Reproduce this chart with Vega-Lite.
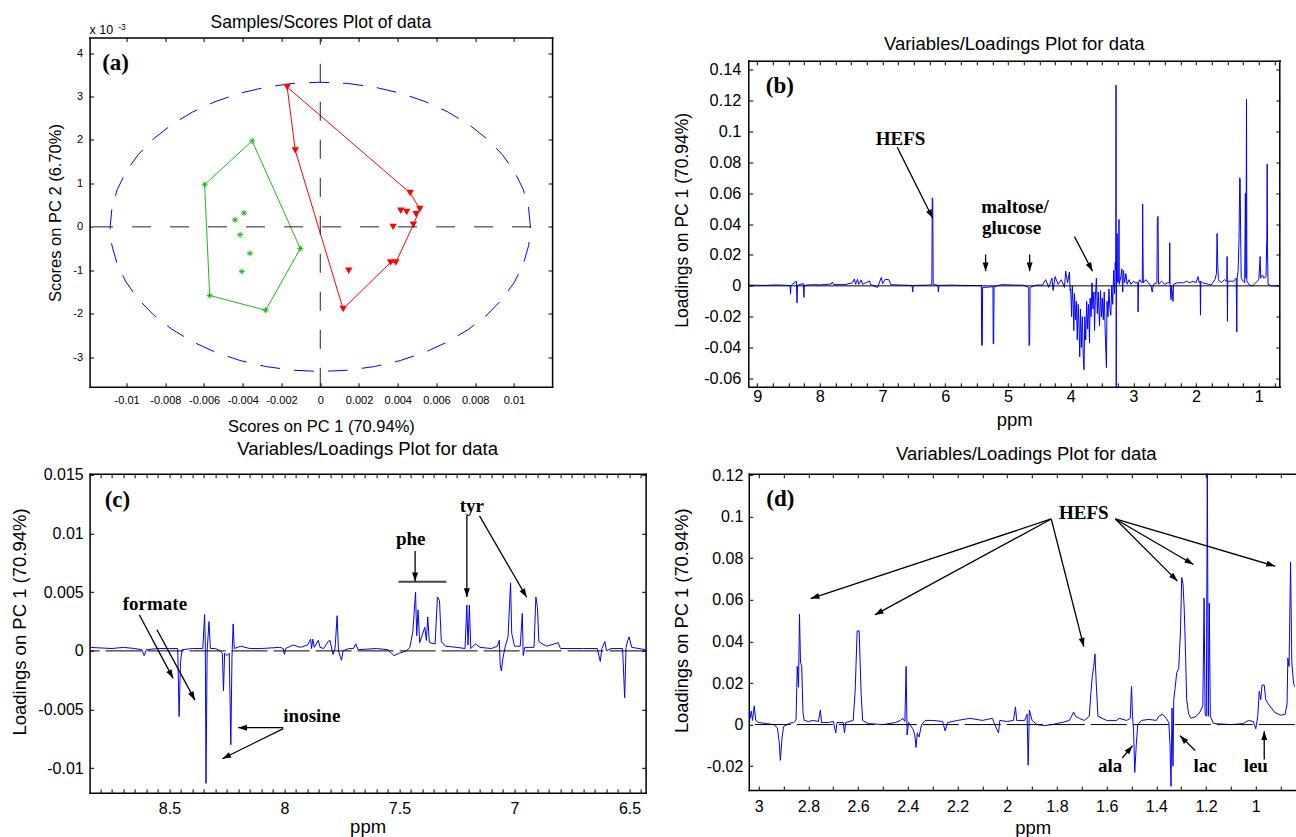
{
  "$schema": "https://vega.github.io/schema/vega-lite/v6.json",
  "background": "white",
  "padding": {"left": 9.6, "top": 13.5, "right": 0, "bottom": 0},
  "bounds": "flush",
  "align": "each",
  "columns": 2,
  "spacing": {"row": 86.3, "column": 103.2},
  "concat": [
    {
      "width": 462.5,
      "height": 349.3,
      "title": {"text": "Samples/Scores Plot of data", "fontSize": 17.5, "baseline": "alphabetic", "offset": -22.4},
      "resolve": {"axis": {"x": "independent", "y": "independent"}},
      "layer": [
        {
          "data": {"name": "ellipse"},
          "mark": {"type": "line", "color": "#0000ff", "strokeWidth": 1, "strokeDash": [20, 14]},
          "encoding": {
            "x": {"field": "x", "type": "quantitative", "scale": {"domain": [-0.01191, 0.01197], "nice": false, "zero": false},
              "axis": {"orient": "bottom", "values": [-0.01, -0.008, -0.006, -0.004, -0.002, 0, 0.002, 0.004, 0.006, 0.008, 0.01], "labelExpr": "toString(datum.value)", "labelFontSize": 11, "labelPadding": 11.2, "title": "Scores on PC 1 (70.94%)", "titleFontSize": 16.5, "titleBaseline": "alphabetic", "titleY": 45}},
            "y": {"field": "y", "type": "quantitative", "scale": {"domain": [-3.683, 4.36], "nice": false, "zero": false},
              "axis": {"orient": "left", "values": [-3, -2, -1, 0, 1, 2, 3, 4], "labelExpr": "toString(datum.value)", "labelFontSize": 11, "labelPadding": 11, "title": "Scores on PC 2 (6.70%)", "titleFontSize": 16.5, "titleBaseline": "middle", "titleX": -34, "titleY": 175}},
            "order": {"field": "i", "type": "quantitative"}
          }
        },
        {
          "data": {"name": "hull"},
          "mark": {"type": "line", "strokeWidth": 1},
          "encoding": {
            "x": {"field": "x", "type": "quantitative", "scale": {"domain": [-0.01191, 0.01197], "nice": false, "zero": false}, "axis": null},
            "y": {"field": "y", "type": "quantitative", "scale": {"domain": [-3.683, 4.36], "nice": false, "zero": false}, "axis": null},
            "color": {"field": "g", "type": "nominal", "scale": {"domain": ["green", "red"], "range": ["#1fb51f", "#ff0000"]}, "legend": null},
            "order": {"field": "i", "type": "quantitative"}
          }
        },
        {
          "data": {"name": "scores"},
          "transform": [{"filter": "datum.g == 'green'"}],
          "mark": {"type": "point", "shape": "M0,-1L0,1M-1,0L1,0M-0.7,-0.7L0.7,0.7M-0.7,0.7L0.7,-0.7", "filled": false, "stroke": "#1fb51f", "strokeWidth": 1, "size": 36, "opacity": 1},
          "encoding": {
            "x": {"field": "x", "type": "quantitative", "scale": {"domain": [-0.01191, 0.01197], "nice": false, "zero": false}, "axis": null},
            "y": {"field": "y", "type": "quantitative", "scale": {"domain": [-3.683, 4.36], "nice": false, "zero": false}, "axis": null}
          }
        },
        {
          "data": {"name": "scores"},
          "transform": [{"filter": "datum.g == 'red'"}],
          "mark": {"type": "point", "shape": "triangle-down", "filled": true, "color": "#ff0000", "size": 55, "opacity": 1},
          "encoding": {
            "x": {"field": "x", "type": "quantitative", "scale": {"domain": [-0.01191, 0.01197], "nice": false, "zero": false}, "axis": null},
            "y": {"field": "y", "type": "quantitative", "scale": {"domain": [-3.683, 4.36], "nice": false, "zero": false}, "axis": null}
          }
        },
        {
          "data": {"values": [{"x": -0.01168, "x2": 0.01094, "y": 0, "y2": 0}, {"x": 0, "x2": 0, "y": -3.683, "y2": 4.36}]},
          "mark": {"type": "rule", "color": "#222222", "strokeWidth": 1, "strokeDash": [19, 19]},
          "encoding": {
            "x": {"field": "x", "type": "quantitative", "scale": {"domain": [-0.01191, 0.01197], "nice": false, "zero": false}, "axis": null},
            "x2": {"field": "x2"},
            "y": {"field": "y", "type": "quantitative", "scale": {"domain": [-3.683, 4.36], "nice": false, "zero": false}, "axis": null},
            "y2": {"field": "y2"}
          }
        },
        {
          "data": {"values": [{"x": -0.01191, "y": 4.441, "t": "x 10"}]},
          "mark": {"type": "text", "font": "Liberation Sans", "fontSize": 12.5, "align": "left", "baseline": "alphabetic", "color": "#000"},
          "encoding": {
            "x": {"field": "x", "type": "quantitative", "scale": {"domain": [-0.01191, 0.01197], "nice": false, "zero": false}, "axis": null},
            "y": {"field": "y", "type": "quantitative", "scale": {"domain": [-3.683, 4.36], "nice": false, "zero": false}, "axis": null},
            "text": {"field": "t"}
          }
        },
        {
          "data": {"values": [{"x": -0.01043, "y": 4.533, "t": "-3"}]},
          "mark": {"type": "text", "font": "Liberation Sans", "fontSize": 8.5, "align": "left", "baseline": "alphabetic", "color": "#000"},
          "encoding": {
            "x": {"field": "x", "type": "quantitative", "scale": {"domain": [-0.01191, 0.01197], "nice": false, "zero": false}, "axis": null},
            "y": {"field": "y", "type": "quantitative", "scale": {"domain": [-3.683, 4.36], "nice": false, "zero": false}, "axis": null},
            "text": {"field": "t"}
          }
        },
        {
          "data": {"values": [{"x": -0.01057, "y": 3.78, "t": "(a)"}]},
          "mark": {"type": "text", "font": "Liberation Serif", "fontWeight": "bold", "fontSize": 23, "align": "center", "baseline": "middle", "color": "#000"},
          "encoding": {
            "x": {"field": "x", "type": "quantitative", "scale": {"domain": [-0.01191, 0.01197], "nice": false, "zero": false},
              "axis": {"orient": "top", "values": [-0.01, -0.008, -0.006, -0.004, -0.002, 0, 0.002, 0.004, 0.006, 0.008, 0.01], "labels": false, "title": null}},
            "y": {"field": "y", "type": "quantitative", "scale": {"domain": [-3.683, 4.36], "nice": false, "zero": false},
              "axis": {"orient": "right", "values": [-3, -2, -1, 0, 1, 2, 3, 4], "labels": false, "title": null}},
            "text": {"field": "t"}
          }
        }
      ]
    },
    {
      "width": 531,
      "height": 349.3,
      "title": {"text": "Variables/Loadings Plot for data", "fontSize": 18.5, "baseline": "alphabetic", "offset": -31.1},
      "resolve": {"axis": {"x": "independent", "y": "independent"}},
      "layer": [
        {
          "data": {"name": "specB"},
          "mark": {"type": "line", "color": "#0000ff", "strokeWidth": 1, "clip": true},
          "encoding": {
            "x": {"field": "p", "type": "quantitative", "scale": {"domain": [0.665, 9.134], "reverse": true, "nice": false, "zero": false},
              "axis": {"orient": "bottom", "values": [0.75,1,1.25,1.5,1.75,2,2.25,2.5,2.75,3,3.25,3.5,3.75,4,4.25,4.5,4.75,5,5.25,5.5,5.75,6,6.25,6.5,6.75,7,7.25,7.5,7.75,8,8.25,8.5,8.75,9], "labelExpr": "datum.value % 1 == 0 ? toString(datum.value) : ''", "labelFontSize": 16.3, "labelPadding": 5.5, "title": "ppm", "titleFontSize": 18.5, "titleBaseline": "alphabetic", "titleY": 38.7}},
            "y": {"field": "v", "type": "quantitative", "scale": {"domain": [-0.0654, 0.1609], "nice": false, "zero": false},
              "axis": {"orient": "left", "domain": false, "values": [-0.06, -0.04, -0.02, 0, 0.02, 0.04, 0.06, 0.08, 0.1, 0.12, 0.14], "labelExpr": "toString(datum.value)", "labelFontSize": 16.3, "labelPadding": 12, "title": "Loadings on PC 1 (70.94%)", "titleFontSize": 17.5, "titleBaseline": "middle", "titleX": -66.5, "titleY": 182.3}}
          }
        },
        {
          "data": {"values": [{"x": 9.134, "y": -0.0654, "y2": 0.1458}, {"x": 0.665, "y": -0.0654, "y2": 0.1458}]},
          "mark": {"type": "rule", "color": "#000", "strokeWidth": 1.5, "strokeCap": "square"},
          "encoding": {
            "x": {"field": "x", "type": "quantitative", "scale": {"domain": [0.665, 9.134], "reverse": true, "nice": false, "zero": false}, "axis": null},
            "y": {"field": "y", "type": "quantitative", "scale": {"domain": [-0.0654, 0.1609], "nice": false, "zero": false}, "axis": null},
            "y2": {"field": "y2"}
          }
        },
        {
          "data": {"values": [{}]},
          "mark": {"type": "rule", "color": "#000", "strokeWidth": 1},
          "encoding": {"y": {"datum": 0, "type": "quantitative", "scale": {"domain": [-0.0654, 0.1609], "nice": false, "zero": false}, "axis": null}}
        },
        {
          "data": {"name": "arrB"},
          "mark": {"type": "rule", "color": "#000", "strokeWidth": 1.3},
          "encoding": {
            "x": {"field": "x", "type": "quantitative", "scale": {"domain": [0.665, 9.134], "reverse": true, "nice": false, "zero": false}, "axis": null},
            "x2": {"field": "x2"},
            "y": {"field": "y", "type": "quantitative", "scale": {"domain": [-0.0654, 0.1609], "nice": false, "zero": false}, "axis": null},
            "y2": {"field": "y2"}
          }
        },
        {
          "data": {"name": "arrB"},
          "mark": {"type": "point", "shape": "M0,0L-0.75,2.2L0.75,2.2Z", "filled": true, "color": "#000", "size": 64, "opacity": 1, "strokeWidth": 0},
          "encoding": {
            "x": {"field": "x2", "type": "quantitative", "scale": {"domain": [0.665, 9.134], "reverse": true, "nice": false, "zero": false}, "axis": null},
            "y": {"field": "y2", "type": "quantitative", "scale": {"domain": [-0.0654, 0.1609], "nice": false, "zero": false}, "axis": null},
            "angle": {"field": "a", "type": "quantitative", "scale": null}
          }
        },
        {
          "data": {"name": "txtB"},
          "mark": {"type": "text", "font": "Liberation Serif", "fontWeight": "bold", "fontSize": 19, "align": "center", "baseline": "middle", "color": "#000"},
          "encoding": {
            "x": {"field": "x", "type": "quantitative", "scale": {"domain": [0.665, 9.134], "reverse": true, "nice": false, "zero": false}, "axis": null},
            "y": {"field": "y", "type": "quantitative", "scale": {"domain": [-0.0654, 0.1609], "nice": false, "zero": false}, "axis": null},
            "text": {"field": "t"}
          }
        },
        {
          "data": {"values": [{"x": 8.639, "y": 0.1297, "t": "(b)"}]},
          "mark": {"type": "text", "font": "Liberation Serif", "fontWeight": "bold", "fontSize": 23, "align": "center", "baseline": "middle", "color": "#000"},
          "encoding": {
            "x": {"field": "x", "type": "quantitative", "scale": {"domain": [0.665, 9.134], "reverse": true, "nice": false, "zero": false},
              "axis": {"orient": "top", "offset": -23.3, "values": [0.75,1,1.25,1.5,1.75,2,2.25,2.5,2.75,3,3.25,3.5,3.75,4,4.25,4.5,4.75,5,5.25,5.5,5.75,6,6.25,6.5,6.75,7,7.25,7.5,7.75,8,8.25,8.5,8.75,9], "labels": false, "title": null}},
            "y": {"field": "y", "type": "quantitative", "scale": {"domain": [-0.0654, 0.1609], "nice": false, "zero": false},
              "axis": {"orient": "right", "domain": false, "values": [-0.06, -0.04, -0.02, 0, 0.02, 0.04, 0.06, 0.08, 0.1, 0.12, 0.14], "labels": false, "title": null}},
            "text": {"field": "t"}
          }
        }
      ]
    },
    {
      "width": 556,
      "height": 319,
      "title": {"text": "Variables/Loadings Plot for data", "fontSize": 18.5, "baseline": "alphabetic", "offset": -6.9},
      "resolve": {"axis": {"x": "independent", "y": "independent"}},
      "layer": [
        {
          "data": {"name": "specC"},
          "mark": {"type": "line", "color": "#0000ff", "strokeWidth": 1, "clip": true},
          "encoding": {
            "x": {"field": "p", "type": "quantitative", "scale": {"domain": [6.43, 8.847], "reverse": true, "nice": false, "zero": false},
              "axis": {"orient": "bottom", "values": [6.45,6.5,6.55,6.6,6.65,6.7,6.75,6.8,6.85,6.9,6.95,7,7.05,7.1,7.15,7.2,7.25,7.3,7.35,7.4,7.45,7.5,7.55,7.6,7.65,7.7,7.75,7.8,7.85,7.9,7.95,8,8.05,8.1,8.15,8.2,8.25,8.3,8.35,8.4,8.45,8.5,8.55,8.6,8.65,8.7,8.75,8.8], "labelExpr": "abs(datum.value*2 - round(datum.value*2)) < 0.001 ? toString(datum.value) : ''", "labelFontSize": 16, "labelPadding": 11.8, "title": "ppm", "titleFontSize": 18.5, "titleBaseline": "alphabetic", "titleY": 39.3}},
            "y": {"field": "v", "type": "quantitative", "scale": {"domain": [-0.0121, 0.0151], "nice": false, "zero": false},
              "axis": {"orient": "left", "values": [-0.01, -0.005, 0, 0.005, 0.01, 0.015], "labelExpr": "toString(datum.value)", "labelFontSize": 16, "labelPadding": 10.4, "title": "Loadings on PC 1 (70.94%)", "titleFontSize": 18.5, "titleBaseline": "middle", "titleX": -70.4, "titleY": 147.7}}
          }
        },
        {
          "data": {"values": [{}]},
          "mark": {"type": "rule", "color": "#000", "strokeWidth": 1, "strokeDash": [36, 6]},
          "encoding": {"y": {"datum": 0, "type": "quantitative", "scale": {"domain": [-0.0121, 0.0151], "nice": false, "zero": false}, "axis": null}}
        },
        {
          "data": {"values": [{"x": 7.504, "x2": 7.296, "y": 0.005886}]},
          "mark": {"type": "rule", "color": "#444444", "strokeWidth": 2},
          "encoding": {
            "x": {"field": "x", "type": "quantitative", "scale": {"domain": [6.43, 8.847], "reverse": true, "nice": false, "zero": false}, "axis": null},
            "x2": {"field": "x2"},
            "y": {"field": "y", "type": "quantitative", "scale": {"domain": [-0.0121, 0.0151], "nice": false, "zero": false}, "axis": null}
          }
        },
        {
          "data": {"name": "arrC"},
          "mark": {"type": "rule", "color": "#000", "strokeWidth": 1.3},
          "encoding": {
            "x": {"field": "x", "type": "quantitative", "scale": {"domain": [6.43, 8.847], "reverse": true, "nice": false, "zero": false}, "axis": null},
            "x2": {"field": "x2"},
            "y": {"field": "y", "type": "quantitative", "scale": {"domain": [-0.0121, 0.0151], "nice": false, "zero": false}, "axis": null},
            "y2": {"field": "y2"}
          }
        },
        {
          "data": {"name": "arrC"},
          "mark": {"type": "point", "shape": "M0,0L-0.75,2.2L0.75,2.2Z", "filled": true, "color": "#000", "size": 64, "opacity": 1, "strokeWidth": 0},
          "encoding": {
            "x": {"field": "x2", "type": "quantitative", "scale": {"domain": [6.43, 8.847], "reverse": true, "nice": false, "zero": false}, "axis": null},
            "y": {"field": "y2", "type": "quantitative", "scale": {"domain": [-0.0121, 0.0151], "nice": false, "zero": false}, "axis": null},
            "angle": {"field": "a", "type": "quantitative", "scale": null}
          }
        },
        {
          "data": {"name": "txtC"},
          "mark": {"type": "text", "font": "Liberation Serif", "fontWeight": "bold", "fontSize": 19, "align": "center", "baseline": "middle", "color": "#000"},
          "encoding": {
            "x": {"field": "x", "type": "quantitative", "scale": {"domain": [6.43, 8.847], "reverse": true, "nice": false, "zero": false}, "axis": null},
            "y": {"field": "y", "type": "quantitative", "scale": {"domain": [-0.0121, 0.0151], "nice": false, "zero": false}, "axis": null},
            "text": {"field": "t"}
          }
        },
        {
          "data": {"values": [{"x": 8.726, "y": 0.012857, "t": "(c)"}]},
          "mark": {"type": "text", "font": "Liberation Serif", "fontWeight": "bold", "fontSize": 23, "align": "center", "baseline": "middle", "color": "#000"},
          "encoding": {
            "x": {"field": "x", "type": "quantitative", "scale": {"domain": [6.43, 8.847], "reverse": true, "nice": false, "zero": false},
              "axis": {"orient": "top", "values": [6.45,6.5,6.55,6.6,6.65,6.7,6.75,6.8,6.85,6.9,6.95,7,7.05,7.1,7.15,7.2,7.25,7.3,7.35,7.4,7.45,7.5,7.55,7.6,7.65,7.7,7.75,7.8,7.85,7.9,7.95,8,8.05,8.1,8.15,8.2,8.25,8.3,8.35,8.4,8.45,8.5,8.55,8.6,8.65,8.7,8.75,8.8], "labels": false, "title": null}},
            "y": {"field": "y", "type": "quantitative", "scale": {"domain": [-0.0121, 0.0151], "nice": false, "zero": false},
              "axis": {"orient": "right", "values": [-0.01, -0.005, 0, 0.005, 0.01, 0.015], "labels": false, "title": null}},
            "text": {"field": "t"}
          }
        }
      ]
    },
    {
      "width": 546,
      "height": 316.3,
      "title": {"text": "Variables/Loadings Plot for data", "fontSize": 18.5, "baseline": "alphabetic", "offset": -11, "dx": 4.5},
      "resolve": {"axis": {"x": "independent", "y": "independent"}},
      "layer": [
        {
          "data": {"name": "specD"},
          "mark": {"type": "line", "color": "#0000ff", "strokeWidth": 1, "clip": true},
          "encoding": {
            "x": {"field": "p", "type": "quantitative", "scale": {"domain": [0.843, 3.04], "reverse": true, "nice": false, "zero": false},
              "axis": {"orient": "bottom", "values": [0.9,1,1.1,1.2,1.3,1.4,1.5,1.6,1.7,1.8,1.9,2,2.1,2.2,2.3,2.4,2.5,2.6,2.7,2.8,2.9,3], "labelExpr": "round(datum.value*10) % 2 == 0 ? toString(datum.value) : ''", "labelFontSize": 16, "labelPadding": 12.2, "title": "ppm", "titleFontSize": 18.5, "titleBaseline": "alphabetic", "titleX": 284, "titleY": 43.5}},
            "y": {"field": "v", "type": "quantitative", "scale": {"domain": [-0.0315, 0.1206], "nice": false, "zero": false},
              "axis": {"orient": "left", "values": [-0.02, 0, 0.02, 0.04, 0.06, 0.08, 0.1, 0.12], "labelExpr": "toString(datum.value)", "labelFontSize": 16, "labelPadding": 10, "title": "Loadings on PC 1 (70.94%)", "titleFontSize": 18.3, "titleBaseline": "middle", "titleX": -66.7, "titleY": 146.5}}
          }
        },
        {
          "data": {"values": [{}]},
          "mark": {"type": "rule", "color": "#000", "strokeWidth": 1, "strokeDash": [36, 6]},
          "encoding": {"y": {"datum": 0, "type": "quantitative", "scale": {"domain": [-0.0315, 0.1206], "nice": false, "zero": false}, "axis": null}}
        },
        {
          "data": {"name": "arrD"},
          "mark": {"type": "rule", "color": "#000", "strokeWidth": 1.3},
          "encoding": {
            "x": {"field": "x", "type": "quantitative", "scale": {"domain": [0.843, 3.04], "reverse": true, "nice": false, "zero": false}, "axis": null},
            "x2": {"field": "x2"},
            "y": {"field": "y", "type": "quantitative", "scale": {"domain": [-0.0315, 0.1206], "nice": false, "zero": false}, "axis": null},
            "y2": {"field": "y2"}
          }
        },
        {
          "data": {"name": "arrD"},
          "mark": {"type": "point", "shape": "M0,0L-0.75,2.2L0.75,2.2Z", "filled": true, "color": "#000", "size": 64, "opacity": 1, "strokeWidth": 0},
          "encoding": {
            "x": {"field": "x2", "type": "quantitative", "scale": {"domain": [0.843, 3.04], "reverse": true, "nice": false, "zero": false}, "axis": null},
            "y": {"field": "y2", "type": "quantitative", "scale": {"domain": [-0.0315, 0.1206], "nice": false, "zero": false}, "axis": null},
            "angle": {"field": "a", "type": "quantitative", "scale": null}
          }
        },
        {
          "data": {"name": "txtD"},
          "mark": {"type": "text", "font": "Liberation Serif", "fontWeight": "bold", "fontSize": 19, "align": "center", "baseline": "middle", "color": "#000"},
          "encoding": {
            "x": {"field": "x", "type": "quantitative", "scale": {"domain": [0.843, 3.04], "reverse": true, "nice": false, "zero": false}, "axis": null},
            "y": {"field": "y", "type": "quantitative", "scale": {"domain": [-0.0315, 0.1206], "nice": false, "zero": false}, "axis": null},
            "text": {"field": "t"}
          }
        },
        {
          "data": {"values": [{"x": 2.913, "y": 0.1085, "t": "(d)"}]},
          "mark": {"type": "text", "font": "Liberation Serif", "fontWeight": "bold", "fontSize": 23, "align": "center", "baseline": "middle", "color": "#000"},
          "encoding": {
            "x": {"field": "x", "type": "quantitative", "scale": {"domain": [0.843, 3.04], "reverse": true, "nice": false, "zero": false},
              "axis": {"orient": "top", "values": [0.9,1,1.1,1.2,1.3,1.4,1.5,1.6,1.7,1.8,1.9,2,2.1,2.2,2.3,2.4,2.5,2.6,2.7,2.8,2.9,3], "labels": false, "title": null}},
            "y": {"field": "y", "type": "quantitative", "scale": {"domain": [-0.0315, 0.1206], "nice": false, "zero": false}, "axis": null},
            "text": {"field": "t"}
          }
        }
      ]
    }
  ],
  "datasets": {
    "ellipse": [
      {"i":0,"x":0.01085,"y":0},{"i":1,"x":0.010757,"y":0.4346},{"i":2,"x":0.01048,"y":0.8618},{"i":3,"x":0.010024,"y":1.2744},{"i":4,"x":0.009396,"y":1.665},{"i":5,"x":0.008608,"y":2.0273},{"i":6,"x":0.007672,"y":2.3546},{"i":7,"x":0.006605,"y":2.642},{"i":8,"x":0.005425,"y":2.8838},{"i":9,"x":0.004152,"y":3.0766},{"i":10,"x":0.002808,"y":3.2164},{"i":11,"x":0.001416,"y":3.3014},{"i":12,"x":0,"y":3.33},
      {"i":13,"x":-0.001416,"y":3.3014},{"i":14,"x":-0.002808,"y":3.2164},{"i":15,"x":-0.004152,"y":3.0766},{"i":16,"x":-0.005425,"y":2.8838},{"i":17,"x":-0.006605,"y":2.642},{"i":18,"x":-0.007672,"y":2.3546},{"i":19,"x":-0.008608,"y":2.0273},{"i":20,"x":-0.009396,"y":1.665},{"i":21,"x":-0.010024,"y":1.2744},{"i":22,"x":-0.01048,"y":0.8618},{"i":23,"x":-0.010757,"y":0.4346},{"i":24,"x":-0.01085,"y":0},
      {"i":25,"x":-0.010757,"y":-0.4346},{"i":26,"x":-0.01048,"y":-0.8618},{"i":27,"x":-0.010024,"y":-1.2744},{"i":28,"x":-0.009396,"y":-1.665},{"i":29,"x":-0.008608,"y":-2.0273},{"i":30,"x":-0.007672,"y":-2.3546},{"i":31,"x":-0.006605,"y":-2.642},{"i":32,"x":-0.005425,"y":-2.8838},{"i":33,"x":-0.004152,"y":-3.0766},{"i":34,"x":-0.002808,"y":-3.2164},{"i":35,"x":-0.001416,"y":-3.3014},{"i":36,"x":0,"y":-3.33},
      {"i":37,"x":0.001416,"y":-3.3014},{"i":38,"x":0.002808,"y":-3.2164},{"i":39,"x":0.004152,"y":-3.0766},{"i":40,"x":0.005425,"y":-2.8838},{"i":41,"x":0.006605,"y":-2.642},{"i":42,"x":0.007672,"y":-2.3546},{"i":43,"x":0.008608,"y":-2.0273},{"i":44,"x":0.009396,"y":-1.665},{"i":45,"x":0.010024,"y":-1.2744},{"i":46,"x":0.01048,"y":-0.8618},{"i":47,"x":0.010757,"y":-0.4346},{"i":48,"x":0.01085,"y":0}
    ],
    "hull": [
      {"g":"green","i":0,"x":-0.00597,"y":0.97},{"g":"green","i":1,"x":-0.00352,"y":1.98},{"g":"green","i":2,"x":-0.00103,"y":-0.5},{"g":"green","i":3,"x":-0.00282,"y":-1.92},{"g":"green","i":4,"x":-0.00571,"y":-1.58},{"g":"green","i":5,"x":-0.00597,"y":0.97},
      {"g":"red","i":0,"x":-0.00171,"y":3.22},{"g":"red","i":1,"x":0.00464,"y":0.78},{"g":"red","i":2,"x":0.00514,"y":0.41},{"g":"red","i":3,"x":0.00481,"y":0.05},{"g":"red","i":4,"x":0.0039,"y":-0.82},{"g":"red","i":5,"x":0.00363,"y":-0.82},{"g":"red","i":6,"x":0.00118,"y":-1.89},{"g":"red","i":7,"x":-0.00129,"y":1.76},{"g":"red","i":8,"x":-0.00171,"y":3.22}
    ],
    "scores": [
      {"g":"green","x":-0.00597,"y":0.97},{"g":"green","x":-0.00352,"y":1.98},{"g":"green","x":-0.00103,"y":-0.5},{"g":"green","x":-0.00282,"y":-1.92},{"g":"green","x":-0.00571,"y":-1.58},
      {"g":"green","x":-0.00394,"y":0.32},{"g":"green","x":-0.0044,"y":0.16},{"g":"green","x":-0.00414,"y":-0.18},{"g":"green","x":-0.00363,"y":-0.61},{"g":"green","x":-0.00405,"y":-1.03},
      {"g":"red","x":-0.00171,"y":3.22},{"g":"red","x":0.00464,"y":0.78},{"g":"red","x":0.00514,"y":0.41},{"g":"red","x":0.00481,"y":0.05},{"g":"red","x":0.0039,"y":-0.82},{"g":"red","x":0.00363,"y":-0.82},{"g":"red","x":0.00118,"y":-1.89},{"g":"red","x":-0.00129,"y":1.76},
      {"g":"red","x":0.00416,"y":0.37},{"g":"red","x":0.00446,"y":0.34},{"g":"red","x":0.00495,"y":0.29},{"g":"red","x":0.00376,"y":0.0},{"g":"red","x":0.00147,"y":-1.01}
    ],
    "specB": [
      {"p":9.13,"v":0.0005},{"p":8.9,"v":0.0003},{"p":8.7,"v":0.0006},{"p":8.55,"v":0.0004},{"p":8.475,"v":0.0002},{"p":8.468,"v":-0.0052},{"p":8.462,"v":0.0002},{"p":8.375,"v":0.003},{"p":8.365,"v":-0.011},{"p":8.357,"v":0.0004},{"p":8.265,"v":0.0015},{"p":8.255,"v":-0.0075},{"p":8.248,"v":0.0004},{"p":8.1,"v":0.0008},{"p":8.0,"v":0.0006},{"p":7.82,"v":0.0012},{"p":7.8,"v":0.0025},{"p":7.78,"v":0.0008},{"p":7.6,"v":0.0008},{"p":7.48,"v":0.002},{"p":7.45,"v":0.0045},{"p":7.43,"v":0.001},{"p":7.4,"v":0.0042},{"p":7.38,"v":0.001},{"p":7.34,"v":0.0038},{"p":7.32,"v":0.001},{"p":7.21,"v":0.0032},{"p":7.19,"v":0.0008},{"p":7.08,"v":-0.001},{"p":7.02,"v":0.0055},{"p":7.0,"v":0.0015},{"p":6.96,"v":0.0042},{"p":6.9,"v":0.004},{"p":6.87,"v":0.0008},{"p":6.7,"v":0.0005},{"p":6.53,"v":0.0003},{"p":6.52,"v":-0.004},{"p":6.51,"v":0.0003},{"p":6.25,"v":0.0005},{"p":6.215,"v":0.0008},{"p":6.208,"v":0.057},{"p":6.2,"v":0.056},{"p":6.193,"v":0.0008},{"p":6.12,"v":0.0005},{"p":6.11,"v":-0.004},{"p":6.1,"v":0.0003},{"p":5.9,"v":0.0005},{"p":5.7,"v":0.0003},{"p":5.5,"v":0.0002},{"p":5.425,"v":0.0002},{"p":5.42,"v":-0.0385},{"p":5.41,"v":-0.0385},{"p":5.405,"v":-0.001},{"p":5.3,"v":-0.0008},{"p":5.24,"v":-0.0005},{"p":5.236,"v":-0.0375},{"p":5.228,"v":-0.0375},{"p":5.222,"v":-0.0005},{"p":5.1,"v":0.0008},{"p":4.9,"v":0.0005},{"p":4.75,"v":0.0004},{"p":4.67,"v":-0.001},{"p":4.664,"v":-0.0387},{"p":4.655,"v":-0.038},{"p":4.648,"v":-0.001},{"p":4.55,"v":0.0005},{"p":4.45,"v":0.0005},{"p":4.4,"v":0.004},{"p":4.35,"v":-0.001},{"p":4.3,"v":0.005},{"p":4.28,"v":-0.003},{"p":4.25,"v":0.006},{"p":4.2,"v":0.001},{"p":4.15,"v":0.004},{"p":4.1,"v":-0.001},{"p":4.08,"v":0.0095},{"p":4.05,"v":0.002},{"p":4.02,"v":0.009},{"p":4.01,"v":-0.003},
      {"p":4.0,"v":-0.002},{"p":3.985,"v":-0.02},{"p":3.975,"v":0.0},{"p":3.96,"v":-0.012},{"p":3.95,"v":-0.029},{"p":3.94,"v":-0.005},{"p":3.925,"v":-0.022},{"p":3.91,"v":-0.01},{"p":3.895,"v":-0.035},{"p":3.88,"v":-0.012},{"p":3.865,"v":-0.03},{"p":3.856,"v":-0.046},{"p":3.845,"v":-0.015},{"p":3.83,"v":-0.04},{"p":3.815,"v":-0.02},{"p":3.8,"v":-0.045},{"p":3.788,"v":-0.0544},{"p":3.775,"v":-0.02},{"p":3.76,"v":-0.035},{"p":3.745,"v":-0.01},{"p":3.73,"v":-0.028},{"p":3.715,"v":-0.012},{"p":3.7,"v":-0.037},{"p":3.69,"v":-0.008},{"p":3.675,"v":-0.02},{"p":3.66,"v":0.002},{"p":3.645,"v":-0.015},{"p":3.63,"v":-0.004},{"p":3.62,"v":-0.029},{"p":3.605,"v":-0.006},{"p":3.59,"v":0.005},{"p":3.575,"v":-0.018},{"p":3.56,"v":-0.004},{"p":3.54,"v":-0.026},{"p":3.525,"v":-0.003},{"p":3.51,"v":-0.02},{"p":3.495,"v":-0.008},{"p":3.48,"v":-0.022},{"p":3.465,"v":-0.004},{"p":3.45,"v":-0.03},{"p":3.43,"v":-0.053},{"p":3.42,"v":-0.01},{"p":3.405,"v":-0.02},{"p":3.39,"v":-0.002},{"p":3.375,"v":-0.015},{"p":3.36,"v":-0.019},{"p":3.345,"v":0.0},{"p":3.33,"v":-0.012},{"p":3.315,"v":0.01},{"p":3.3,"v":-0.005},{"p":3.29,"v":0.015},{"p":3.28,"v":0.01},{"p":3.277,"v":0.13},{"p":3.274,"v":-0.07},{"p":3.27,"v":0.02},{"p":3.265,"v":0.003},{"p":3.26,"v":0.034},{"p":3.255,"v":0.002},{"p":3.235,"v":0.003},{"p":3.23,"v":0.043},{"p":3.225,"v":0.001},
      {"p":3.2,"v":0.006},{"p":3.185,"v":0.011},{"p":3.17,"v":-0.004},{"p":3.16,"v":0.01},{"p":3.14,"v":0.002},{"p":3.12,"v":0.008},{"p":3.1,"v":0.001},{"p":3.07,"v":0.004},{"p":3.04,"v":0.001},{"p":3.0,"v":0.003},{"p":2.97,"v":0.002},{"p":2.93,"v":0.002},{"p":2.925,"v":-0.017},{"p":2.918,"v":0.002},{"p":2.9,"v":0.004},{"p":2.87,"v":0.002},{"p":2.858,"v":0.002},{"p":2.852,"v":0.053},{"p":2.848,"v":0.028},{"p":2.842,"v":0.002},{"p":2.8,"v":0.004},{"p":2.76,"v":0.002},{"p":2.72,"v":0.0},{"p":2.7,"v":-0.004},{"p":2.68,"v":0.001},{"p":2.625,"v":0.002},{"p":2.617,"v":0.044},{"p":2.607,"v":0.045},{"p":2.6,"v":0.001},{"p":2.55,"v":0.003},{"p":2.5,"v":0.001},{"p":2.45,"v":0.002},{"p":2.425,"v":0.002},{"p":2.42,"v":0.028},{"p":2.415,"v":0.001},{"p":2.4,"v":-0.009},{"p":2.39,"v":0.0},{"p":2.367,"v":-0.01},{"p":2.36,"v":0.001},{"p":2.3,"v":0.002},{"p":2.2,"v":0.002},{"p":2.15,"v":0.003},{"p":2.1,"v":0.002},{"p":2.05,"v":0.003},{"p":2.0,"v":0.002},{"p":1.97,"v":0.006},{"p":1.95,"v":0.002},{"p":1.935,"v":0.003},{"p":1.93,"v":-0.019},{"p":1.925,"v":0.003},{"p":1.9,"v":0.002},{"p":1.8,"v":0.001},{"p":1.76,"v":0.0005},{"p":1.7,"v":0.004},{"p":1.675,"v":0.008},{"p":1.665,"v":0.034},{"p":1.655,"v":0.015},{"p":1.645,"v":0.004},{"p":1.6,"v":0.002},{"p":1.55,"v":0.004},{"p":1.51,"v":0.003},{"p":1.505,"v":0.019},{"p":1.5,"v":-0.023},{"p":1.495,"v":0.003},{"p":1.4,"v":0.003},{"p":1.36,"v":0.005},{"p":1.351,"v":-0.03},{"p":1.345,"v":0.005},{"p":1.33,"v":0.01},{"p":1.315,"v":0.03},{"p":1.304,"v":0.07},{"p":1.297,"v":0.069},{"p":1.29,"v":0.035},{"p":1.28,"v":0.005},{"p":1.25,"v":0.003},{"p":1.225,"v":0.002},{"p":1.214,"v":0.06},{"p":1.205,"v":0.005},{"p":1.196,"v":0.121},{"p":1.19,"v":0.003},{"p":1.15,"v":0.0005},{"p":1.1,"v":0.0},{"p":1.05,"v":0.002},{"p":1.0,"v":0.004},{"p":0.978,"v":0.019},{"p":0.97,"v":0.005},{"p":0.96,"v":0.006},{"p":0.94,"v":0.007},{"p":0.92,"v":0.005},{"p":0.885,"v":0.006},{"p":0.872,"v":0.03},{"p":0.866,"v":0.079},{"p":0.86,"v":0.02},{"p":0.852,"v":0.001},{"p":0.8,"v":0.0},{"p":0.7,"v":0.0},{"p":0.665,"v":0.0}
    ],
    "specC": [
      {"p":8.847,"v":0.0003},{"p":8.75,"v":0.0002},{"p":8.7,"v":0.0003},{"p":8.65,"v":0.0002},{"p":8.62,"v":0.0001},{"p":8.61,"v":-0.0004},{"p":8.6,"v":0.0001},{"p":8.55,"v":0.0002},{"p":8.5,"v":0.0002},{"p":8.464,"v":0.0002},{"p":8.458,"v":-0.0056},{"p":8.452,"v":-0.001},{"p":8.445,"v":0.0001},{"p":8.4,"v":0.0002},{"p":8.355,"v":0.0002},{"p":8.347,"v":0.0031},{"p":8.344,"v":0.0005},{"p":8.341,"v":-0.0113},{"p":8.336,"v":0.0},{"p":8.328,"v":0.0025},{"p":8.322,"v":0.0002},{"p":8.3,"v":0.0002},{"p":8.28,"v":0.0},{"p":8.27,"v":-0.0002},{"p":8.265,"v":-0.0034},{"p":8.26,"v":-0.0002},{"p":8.25,"v":-0.0004},{"p":8.24,"v":-0.0002},{"p":8.233,"v":-0.008},{"p":8.228,"v":-0.0005},{"p":8.223,"v":0.0023},{"p":8.218,"v":0.0002},{"p":8.19,"v":0.0004},{"p":8.15,"v":0.0002},{"p":8.1,"v":0.0002},{"p":8.02,"v":0.0003},{"p":8.005,"v":0.0002},{"p":8.0,"v":-0.0003},{"p":7.995,"v":0.0002},{"p":7.963,"v":0.0005},{"p":7.93,"v":0.0003},{"p":7.9,"v":0.0005},{"p":7.886,"v":0.001},{"p":7.882,"v":0.0002},{"p":7.877,"v":0.001},{"p":7.87,"v":0.0003},{"p":7.853,"v":0.0009},{"p":7.845,"v":0.0003},{"p":7.83,"v":0.0002},{"p":7.81,"v":0.0008},{"p":7.802,"v":0.0009},{"p":7.789,"v":-0.0003},{"p":7.78,"v":0.0002},{"p":7.771,"v":0.003},{"p":7.765,"v":0.0},{"p":7.752,"v":-0.0008},{"p":7.745,"v":0.0},{"p":7.72,"v":0.0002},{"p":7.7,"v":0.0002},{"p":7.69,"v":0.0006},{"p":7.68,"v":0.0001},{"p":7.6,"v":0.0002},{"p":7.55,"v":0.0001},{"p":7.524,"v":-0.0004},{"p":7.5,"v":-0.0002},{"p":7.47,"v":0.0},{"p":7.455,"v":0.0003},{"p":7.442,"v":0.0016},{"p":7.43,"v":0.005},{"p":7.425,"v":0.0013},{"p":7.419,"v":0.0035},{"p":7.412,"v":0.0007},{"p":7.39,"v":0.002},{"p":7.383,"v":0.0009},{"p":7.377,"v":0.0029},{"p":7.37,"v":0.0007},{"p":7.345,"v":0.0006},{"p":7.335,"v":0.0046},{"p":7.326,"v":0.0043},{"p":7.318,"v":0.0008},{"p":7.3,"v":0.0004},{"p":7.25,"v":0.0003},{"p":7.215,"v":0.0002},{"p":7.207,"v":0.0039},{"p":7.202,"v":0.0005},{"p":7.196,"v":0.0039},{"p":7.19,"v":0.0002},{"p":7.17,"v":0.0006},{"p":7.15,"v":0.0003},{"p":7.1,"v":0.0002},{"p":7.075,"v":0.0004},{"p":7.066,"v":0.0009},{"p":7.062,"v":-0.0012},{"p":7.057,"v":-0.0017},{"p":7.05,"v":-0.0006},{"p":7.04,"v":0.0004},{"p":7.028,"v":0.0012},{"p":7.017,"v":0.0058},{"p":7.012,"v":0.0015},{"p":7.0,"v":0.0004},{"p":6.975,"v":0.0004},{"p":6.966,"v":0.0032},{"p":6.962,"v":-0.0004},{"p":6.955,"v":0.0003},{"p":6.915,"v":0.0003},{"p":6.907,"v":0.0046},{"p":6.9,"v":0.0037},{"p":6.894,"v":0.0008},{"p":6.88,"v":0.0006},{"p":6.86,"v":0.0004},{"p":6.81,"v":0.0007},{"p":6.8,"v":0.0002},{"p":6.7,"v":0.0002},{"p":6.64,"v":0.0002},{"p":6.627,"v":-0.0009},{"p":6.62,"v":0.0002},{"p":6.607,"v":0.0008},{"p":6.6,"v":0.0},{"p":6.58,"v":0.0002},{"p":6.53,"v":0.0002},{"p":6.521,"v":-0.004},{"p":6.515,"v":0.0003},{"p":6.507,"v":0.0009},{"p":6.502,"v":0.0012},{"p":6.49,"v":0.0003},{"p":6.43,"v":0.0001}
    ],
    "specD": [
      {"p":3.04,"v":0.006},{"p":3.035,"v":0.003},{"p":3.03,"v":0.0065},{"p":3.025,"v":0.002},{"p":3.018,"v":0.009},{"p":3.012,"v":0.002},{"p":3.0,"v":0.001},{"p":2.97,"v":0.0005},{"p":2.94,"v":0.0},{"p":2.925,"v":-0.0015},{"p":2.918,"v":-0.008},{"p":2.913,"v":-0.0172},{"p":2.906,"v":-0.006},{"p":2.9,"v":-0.001},{"p":2.88,"v":0.0005},{"p":2.86,"v":0.001},{"p":2.85,"v":0.002},{"p":2.845,"v":0.028},{"p":2.84,"v":0.018},{"p":2.836,"v":0.053},{"p":2.832,"v":0.03},{"p":2.827,"v":0.028},{"p":2.822,"v":0.006},{"p":2.817,"v":0.002},{"p":2.8,"v":0.0015},{"p":2.78,"v":0.002},{"p":2.76,"v":0.0015},{"p":2.752,"v":0.007},{"p":2.747,"v":0.001},{"p":2.72,"v":0.001},{"p":2.7,"v":0.0015},{"p":2.69,"v":-0.004},{"p":2.685,"v":0.001},{"p":2.66,"v":0.001},{"p":2.655,"v":-0.004},{"p":2.65,"v":0.001},{"p":2.62,"v":0.002},{"p":2.612,"v":0.016},{"p":2.604,"v":0.045},{"p":2.596,"v":0.045},{"p":2.588,"v":0.015},{"p":2.582,"v":0.002},{"p":2.56,"v":0.0005},{"p":2.5,"v":0.0},{"p":2.45,"v":0.001},{"p":2.43,"v":0.002},{"p":2.42,"v":0.003},{"p":2.412,"v":0.0015},{"p":2.407,"v":0.028},{"p":2.403,"v":-0.005},{"p":2.397,"v":0.001},{"p":2.38,"v":-0.002},{"p":2.372,"v":-0.005},{"p":2.367,"v":-0.011},{"p":2.362,"v":-0.004},{"p":2.355,"v":-0.006},{"p":2.345,"v":0.0},{"p":2.33,"v":0.002},{"p":2.3,"v":0.002},{"p":2.26,"v":0.0015},{"p":2.25,"v":-0.003},{"p":2.24,"v":0.001},{"p":2.2,"v":0.002},{"p":2.15,"v":0.003},{"p":2.1,"v":0.002},{"p":2.06,"v":0.003},{"p":2.05,"v":0.0},{"p":2.035,"v":-0.004},{"p":2.03,"v":0.002},{"p":2.0,"v":0.0015},{"p":1.975,"v":0.002},{"p":1.967,"v":0.0085},{"p":1.962,"v":0.002},{"p":1.93,"v":0.002},{"p":1.92,"v":0.005},{"p":1.916,"v":-0.0195},{"p":1.911,"v":0.007},{"p":1.9,"v":0.002},{"p":1.88,"v":0.0},{"p":1.85,"v":-0.0005},{"p":1.82,"v":0.0},{"p":1.8,"v":0.0005},{"p":1.78,"v":0.001},{"p":1.75,"v":0.002},{"p":1.733,"v":0.006},{"p":1.725,"v":0.004},{"p":1.71,"v":0.003},{"p":1.69,"v":0.002},{"p":1.67,"v":0.004},{"p":1.663,"v":0.016},{"p":1.658,"v":0.023},{"p":1.652,"v":0.028},{"p":1.647,"v":0.034},{"p":1.642,"v":0.02},{"p":1.635,"v":0.004},{"p":1.6,"v":0.002},{"p":1.56,"v":0.002},{"p":1.55,"v":0.003},{"p":1.52,"v":0.002},{"p":1.505,"v":0.003},{"p":1.5,"v":0.0185},{"p":1.496,"v":0.004},{"p":1.492,"v":-0.002},{"p":1.487,"v":-0.023},{"p":1.481,"v":-0.01},{"p":1.475,"v":0.0},{"p":1.46,"v":0.002},{"p":1.43,"v":0.0025},{"p":1.4,"v":0.002},{"p":1.39,"v":0.004},{"p":1.375,"v":0.005},{"p":1.36,"v":0.003},{"p":1.35,"v":0.001},{"p":1.345,"v":-0.01},{"p":1.341,"v":-0.0297},{"p":1.337,"v":0.008},{"p":1.333,"v":-0.02},{"p":1.33,"v":0.012},{"p":1.325,"v":0.017},{"p":1.318,"v":0.025},{"p":1.31,"v":0.027},{"p":1.303,"v":0.045},{"p":1.298,"v":0.0707},{"p":1.293,"v":0.068},{"p":1.288,"v":0.056},{"p":1.284,"v":0.04},{"p":1.278,"v":0.012},{"p":1.27,"v":0.005},{"p":1.26,"v":0.003},{"p":1.24,"v":0.004},{"p":1.225,"v":0.006},{"p":1.213,"v":0.009},{"p":1.208,"v":0.0608},{"p":1.204,"v":0.005},{"p":1.199,"v":0.004},{"p":1.195,"v":0.121},{"p":1.191,"v":0.004},{"p":1.187,"v":0.0584},{"p":1.183,"v":0.004},{"p":1.17,"v":0.0005},{"p":1.1,"v":0.0},{"p":1.05,"v":0.0005},{"p":1.03,"v":0.002},{"p":1.01,"v":0.0015},{"p":1.0,"v":-0.002},{"p":0.992,"v":0.004},{"p":0.986,"v":0.016},{"p":0.98,"v":0.012},{"p":0.975,"v":0.019},{"p":0.966,"v":0.019},{"p":0.96,"v":0.012},{"p":0.95,"v":0.01},{"p":0.925,"v":0.006},{"p":0.9,"v":0.0045},{"p":0.882,"v":0.005},{"p":0.874,"v":0.01},{"p":0.871,"v":0.032},{"p":0.866,"v":0.028},{"p":0.86,"v":0.078},{"p":0.855,"v":0.03},{"p":0.848,"v":0.02},{"p":0.843,"v":0.018}
    ],
    "arrB": [
      {"x":6.767,"y":0.0898,"x2":6.2,"y2":0.0438,"a":153.4},
      {"x":5.357,"y":0.0203,"x2":5.357,"y2":0.0095,"a":180},
      {"x":4.655,"y":0.0203,"x2":4.655,"y2":0.0095,"a":180},
      {"x":3.94,"y":0.0319,"x2":3.652,"y2":0.0095,"a":152.6}
    ],
    "txtB": [
      {"x":6.714,"y":0.0951,"t":"HEFS"},
      {"x":4.889,"y":0.0509,"t":"maltose/"},
      {"x":4.942,"y":0.0375,"t":"glucose"}
    ],
    "arrC": [
      {"x":8.631,"y":0.003086,"x2":8.484,"y2":-0.002343,"a":152},
      {"x":8.554,"y":0.0018,"x2":8.389,"y2":-0.0042,"a":151.6},
      {"x":8.005,"y":-0.006543,"x2":8.201,"y2":-0.006543,"a":270},
      {"x":8.005,"y":-0.006629,"x2":8.27,"y2":-0.0092,"a":243.8},
      {"x":7.432,"y":0.008514,"x2":7.432,"y2":0.005943,"a":180},
      {"x":7.207,"y":0.011514,"x2":7.207,"y2":0.0046,"a":180},
      {"x":7.152,"y":0.011514,"x2":6.947,"y2":0.004571,"a":149.8}
    ],
    "txtC": [
      {"x":8.563,"y":0.004029,"t":"formate"},
      {"x":7.881,"y":-0.005543,"t":"inosine"},
      {"x":7.451,"y":0.009571,"t":"phe"},
      {"x":7.185,"y":0.012371,"t":"tyr"}
    ],
    "arrD": [
      {"x":1.823,"y":0.09887,"x2":2.791,"y2":0.06061,"a":251.75},
      {"x":1.823,"y":0.09887,"x2":2.533,"y2":0.05273,"a":241.5},
      {"x":1.823,"y":0.09887,"x2":1.692,"y2":0.03746,"a":165.7},
      {"x":1.565,"y":0.09887,"x2":1.315,"y2":0.069,"a":134.5},
      {"x":1.565,"y":0.09887,"x2":1.251,"y2":0.077,"a":120.3},
      {"x":1.565,"y":0.09887,"x2":0.922,"y2":0.0762,"a":106.8},
      {"x":1.537,"y":-0.01608,"x2":1.496,"y2":-0.01013,"a":39.4},
      {"x":1.244,"y":-0.0125,"x2":1.305,"y2":-0.0053,"a":316.3},
      {"x":0.966,"y":-0.0168,"x2":0.966,"y2":-0.0032,"a":0}
    ],
    "txtD": [
      {"x":1.692,"y":0.1018,"t":"HEFS"},
      {"x":1.586,"y":-0.0198,"t":"ala"},
      {"x":1.204,"y":-0.0199,"t":"lac"},
      {"x":1.0,"y":-0.0199,"t":"leu"}
    ]
  },
  "config": {
    "view": {"stroke": null},
    "font": "Liberation Sans",
    "axis": {"grid": false, "domainColor": "#000", "domainWidth": 1.5, "domainCap": "square", "tickColor": "#000", "tickSize": -4, "tickWidth": 1, "labelColor": "#000", "titleColor": "#000", "labelFont": "Liberation Sans", "titleFont": "Liberation Sans", "titleFontWeight": "normal", "labelOverlap": false, "labelFlush": false, "labelBound": false},
    "title": {"color": "#000", "font": "Liberation Sans", "fontWeight": "normal", "anchor": "middle"}
  }
}
